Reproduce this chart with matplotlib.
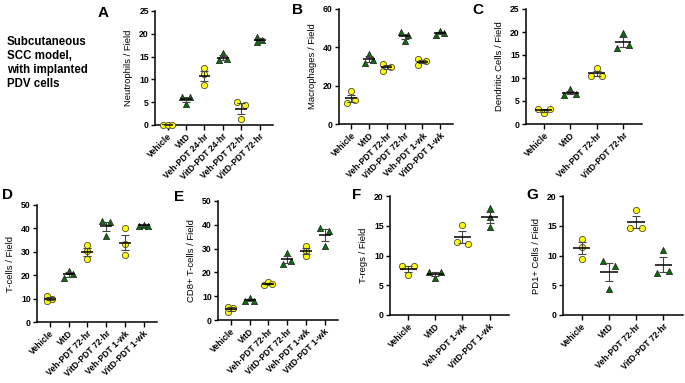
import numpy as np
import matplotlib.pyplot as plt

plt.rcParams['font.family'] = ['Liberation Sans', 'DejaVu Sans']
plt.rcParams['font.weight'] = 'bold'

# --- data (3 animals per group) ---
neut_groups = ['Vehicle', 'VitD', 'Veh-PDT 24-hr', 'VitD-PDT 24-hr', 'Veh-PDT 72-hr', 'VitD-PDT 72-hr']
neut_vals = [[0, 0, 0], [6.2, 4.6, 6.2], [12.4, 11.2, 8.8], [14.2, 15.8, 14.4], [5.1, 1.25, 4.3], [19.4, 18.1, 18.6]]

mac_groups = ['Vehicle', 'VitD', 'Veh-PDT 72-hr', 'VitD-PDT 72-hr', 'Veh-PDT 1-wk', 'VitD-PDT 1-wk']
mac_vals = [[17.0, 10.9, 12.3], [36.5, 31.8, 33.5], [31.3, 27.8, 29.7], [48.0, 46.2, 43.1], [33.9, 30.8, 32.9], [46.4, 48.3, 47.6]]

dc_groups = ['Vehicle', 'VitD', 'Veh-PDT 72-hr', 'VitD-PDT 72-hr']
dc_vals = [[3.3, 2.3, 3.3], [7.6, 6.3, 6.6], [12.2, 10.4, 10.4], [19.8, 16.6, 17.1]]

tcell_groups = ['Vehicle', 'VitD', 'Veh-PDT 72-hr', 'VitD-PDT 72-hr', 'Veh-PDT 1-wk', 'VitD-PDT 1-wk']
tcell_vals = [[10.9, 8.8, 10.0], [22.0, 18.8, 20.3], [32.7, 30.5, 27.0], [43.2, 42.6, 36.8], [40.0, 33.2, 28.6], [41.2, 41.4, 41.2]]

cd8_groups = ['Vehicle', 'VitD', 'Veh-PDT 72-hr', 'VitD-PDT 72-hr', 'Veh-PDT 1-wk', 'VitD-PDT 1-wk']
cd8_vals = [[5.6, 3.4, 4.9], [9.1, 8.0, 8.1], [14.9, 15.9, 15.2], [28.1, 23.5, 24.7], [31.1, 29.1, 27.0], [38.8, 37.6, 31.0]]

treg_groups = ['Vehicle', 'VitD', 'Veh-PDT 1-wk', 'VitD-PDT 1-wk']
treg_vals = [[8.2, 6.7, 8.2], [7.2, 6.3, 7.2], [12.2, 15.2, 11.9], [17.9, 16.5, 14.8]]

pd1_groups = ['Vehicle', 'VitD', 'Veh-PDT 72-hr', 'VitD-PDT 72-hr']
pd1_vals = [[12.8, 11.4, 9.4], [9.0, 8.3, 4.3], [17.6, 14.7, 14.7], [11.0, 7.0, 7.4]]

# horizontal spread of the dots inside each column (in "slots")
neut_off = [[-1, 0, 1], [-1, 0, 1], [0, 0, 0], [-1, 0, 1], [-1, 0, 1], [-0.6, -0.6, 0.6]]
mac_off = [[0, -1, 1], [0, -1, 1], [-1, -1, 1], [-1, 1, 0], [-1, -1, 1], [-1, 0, 1]]
dc_off = [[-1, 0, 1], [0, -1, 1], [0, -1, 1], [0, -1, 1]]
tcell_off = [[-0.6, -0.6, 0.6], [0, -1, 1], [0, 0, 0], [-1, 1, 0], [0, 0, 0], [-1, 0, 1]]
cd8_off = [[-0.6, -0.6, 0.6], [0, -1, 1], [-1, 0, 1], [0, -1, 1], [0, 0, 0], [-1, 1, 0]]
treg_off = [[-1, 0, 1], [-1, 0, 1], [-1, 0, 1], [0, 0, 0]]
pd1_off = [[0, 0, 0], [-1, 1, 0], [0, -1, 1], [0, -1, 1]]

W, H = 685, 383
fig = plt.figure(figsize=(W / 100, H / 100), dpi=100)


def make_ax(l, t, r, b):
    return fig.add_axes([l / W, 1 - b / H, (r - l) / W, (b - t) / H])


def panel(box, groups, vals, offs, yticks, ylabel, letter, lpos):
    ax = make_ax(*box)
    n = len(groups)
    for i in range(n):
        v = np.array(vals[i], dtype=float)
        x = i + np.array(offs[i]) * 0.22
        if groups[i].startswith('VitD'):
            ax.scatter(x, v, s=20, marker='^', facecolor='#0b6e0b', edgecolor='#1a1a1a',
                       linewidth=0.5, zorder=3, clip_on=False)
        else:
            ax.scatter(x, v, s=20, marker='o', facecolor='#ffff00', edgecolor='#4a4a30',
                       linewidth=0.6, zorder=3, clip_on=False)
        m = v.mean()
        se = v.std(ddof=1) / np.sqrt(len(v))
        ax.errorbar(i, m, yerr=se, color='#444444', lw=0.8, capsize=2.6, capthick=0.8, zorder=4)
        ax.plot([i - 0.32, i + 0.32], [m, m], color='black', lw=1.1, zorder=5, solid_capstyle='butt')
    ax.set_xlim(-0.68, n - 0.28)
    ax.set_ylim(yticks[0], yticks[-1])
    ax.set_yticks(yticks)
    ax.set_xticks(range(n))
    ax.set_xticklabels(groups, rotation=45, ha='right', rotation_mode='anchor', fontsize=6.2)
    ax.tick_params(axis='y', labelsize=6.2, length=3, width=1.0, pad=1.5)
    ax.tick_params(axis='x', length=3.5, width=1.0, pad=1.5)
    for s in ['top', 'right']:
        ax.spines[s].set_visible(False)
    for s in ['left', 'bottom']:
        ax.spines[s].set_linewidth(1.1)
    ax.set_ylabel(ylabel, fontsize=6.8, labelpad=4)
    fig.text(lpos[0] / W, 1 - lpos[1] / H, letter, fontsize=11, fontweight='bold', va='top', ha='left')
    return ax


panel((155, 11, 273, 125), neut_groups, neut_vals, neut_off, [0, 5, 10, 15, 20, 25],
      'Neutrophils / Field', 'A', (98, 6))
panel((339, 9, 453, 124), mac_groups, mac_vals, mac_off, [0, 20, 40, 60],
      'Macrophages / Field', 'B', (292, 3))
panel((526, 9, 642, 124), dc_groups, dc_vals, dc_off, [0, 5, 10, 15, 20, 25],
      'Dendritic Cells / Field', 'C', (472, 3))
panel((37, 205, 157, 322), tcell_groups, tcell_vals, tcell_off, [0, 10, 20, 30, 40, 50],
      'T-cells / Field', 'D', (2, 188))
panel((218, 201, 338, 320), cd8_groups, cd8_vals, cd8_off, [0, 10, 20, 30, 40, 50],
      'CD8+ T-cells / Field', 'E', (174, 190))
panel((390, 196, 509, 315), treg_groups, treg_vals, treg_off, [0, 5, 10, 15, 20],
      'T-regs / Field', 'F', (352, 188))
panel((563, 196, 683, 315), pd1_groups, pd1_vals, pd1_off, [0, 5, 10, 15, 20],
      'PD1+ Cells / Field', 'G', (526, 188))

fig.text(7 / W, 1 - 36 / H, 'Subcutaneous\nSCC model,\nwith implanted\nPDV cells',
         fontsize=8.3, fontweight='bold', va='top', ha='left', linespacing=1.22)

fig.savefig('out.png', dpi=100)
